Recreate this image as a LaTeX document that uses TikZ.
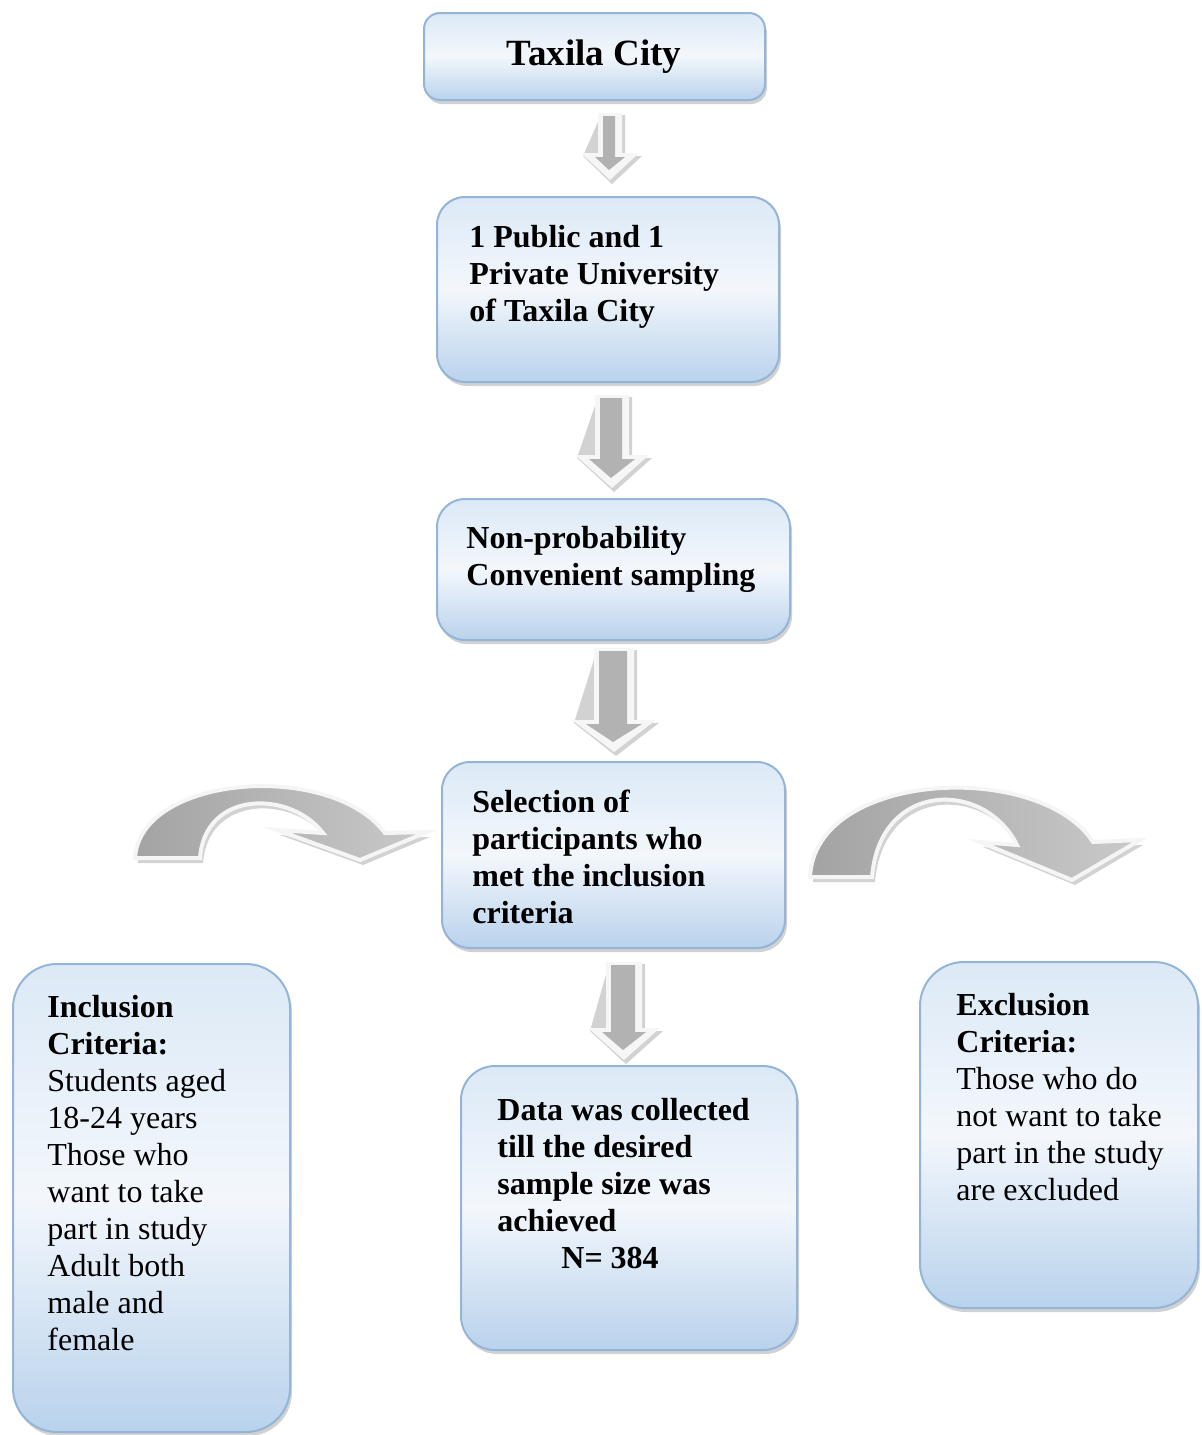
\documentclass[tikz,border=0pt]{standalone}
\usepackage{fontspec}
\setmainfont{Liberation Serif}
\usetikzlibrary{shadows,calc}
\definecolor{boxtop}{HTML}{DCE9F6}
\definecolor{boxmid}{HTML}{F3F7FC}
\definecolor{boxbot}{HTML}{B9D2EC}
\definecolor{boxline}{HTML}{93B5D8}
\tikzset{
  box/.style={draw=boxline, line width=1pt, top color=boxtop, bottom color=boxbot, middle color=boxmid,
    rounded corners=14pt, inner sep=0pt,
    drop shadow={shadow xshift=1pt, shadow yshift=-2pt, fill=black!40, opacity=0.45}},
  txt/.style={anchor=north west, inner sep=0pt, align=left,
    font=\fontsize{16}{18.5}\selectfont},
  bigtxt/.style={anchor=base, inner sep=0pt, font=\bfseries\fontsize{18.5}{21}\selectfont},
  curvarrow/.style={draw=gray!8, line width=2pt, left color=gray!72, right color=gray!42},
  arrowshadow/.style={fill=gray!35},
}
% cx, ytop, ytip, shaft half width, head half width, head length (pixel units)
\newcommand\blockdown[6]{%
  \fill[arrowshadow] ({#1-#4+3},{#2+2}) -- ({#1+#4+3},{#2+2}) -- ({#1+#4+3},{#3-#6+3})
     -- ({#1+#5+3},{#3-#6+3}) -- ({#1+2},{#3+4}) -- ({#1-#5+2},{#3-#6+3}) -- cycle;
  \fill[gray!7] ({#1-#4},{#2}) -- ({#1+#4},{#2}) -- ({#1+#4},{#3-#6}) -- ({#1+#5},{#3-#6})
     -- ({#1},{#3}) -- ({#1-#5},{#3-#6}) -- ({#1-#4},{#3-#6}) -- cycle;
  \fill[gray!60] ({#1-#4+5},{#2+3}) -- ({#1+#4-7},{#2+3}) -- ({#1+#4-7},{#3-#6+4})
     -- ({#1+#5-14},{#3-#6+4}) -- ({#1-1},{#3-10}) -- ({#1-#5+14},{#3-#6+4})
     -- ({#1-#4+5},{#3-#6+4}) -- cycle;
}
\begin{document}
\begin{tikzpicture}[x=0.5pt,y=-0.5pt]
\useasboundingbox (0,0) rectangle (1201,1435);

% boxes
\node[box, rounded corners=8pt, minimum width=170.5pt, minimum height=43.5pt] (city) at (594.5,56.5) {};
\node[box, minimum width=171pt, minimum height=92.5pt] (univ) at (608,289.5) {};
\node[box, minimum width=176.5pt, minimum height=70.5pt] (samp) at (613.5,569.5) {};
\node[box, minimum width=171.5pt, minimum height=93pt] (sel) at (613.5,855) {};
\node[box, rounded corners=17pt, minimum width=168pt, minimum height=142pt] (data) at (629,1208) {};
\node[box, rounded corners=22pt, minimum width=138.5pt, minimum height=234pt] (inc) at (151.5,1198) {};
\node[box, rounded corners=22pt, minimum width=139pt, minimum height=173pt] (exc) at (1059,1135) {};

% texts
\node[bigtxt] (tcity) at (594,65) {Taxila City};
\node[txt, font=\bfseries\fontsize{16}{18.5}\selectfont] (tuniv) at (469,225)
  {1 Public and 1\\Private University\\of Taxila City};
\node[txt, font=\bfseries\fontsize{16}{18.5}\selectfont] (tsamp) at (466,526)
  {Non-probability\\Convenient sampling};
\node[txt, font=\bfseries\fontsize{16}{18.5}\selectfont] (tsel) at (472,790)
  {Selection of\\participants who\\met the inclusion\\criteria};
\node[txt, font=\bfseries\fontsize{16}{18.5}\selectfont] (tdata) at (497,1098)
  {Data was collected\\till the desired\\sample size was\\achieved\\\hspace*{32pt}N= 384};
\node[txt] (tinc) at (47,995)
  {\textbf{Inclusion}\\\textbf{Criteria:}\\Students aged\\18-24 years\\Those who\\want to take\\part in study\\Adult both\\male and\\female};
\node[txt] (texc) at (956,993)
  {\textbf{Exclusion}\\\textbf{Criteria:}\\Those who do\\not want to take\\part in the study\\are excluded};

% straight block arrows
\blockdown{610}{113}{180}{12}{29}{27}
\blockdown{612}{395}{488}{17}{37}{33}
\blockdown{614}{648}{752}{20}{42}{32}
\blockdown{624}{962}{1060}{18}{36}{32}

% curved arrows
\fill[arrowshadow, shift={(3,5)}] (135,858) .. controls (140,775) and (330,760) .. (385,833)
  -- (427,832) -- (360,860) -- (277,830) -- (323,833)
  .. controls (290,790) and (205,790) .. (200,858) -- cycle;
\path[curvarrow] (135,858) .. controls (140,775) and (330,760) .. (385,833)
  -- (427,832) -- (360,860) -- (277,830) -- (323,833)
  .. controls (290,790) and (205,790) .. (200,858) -- cycle;

\fill[arrowshadow, shift={(3,5)}] (810,877) .. controls (815,770) and (1040,760) .. (1093,842)
  -- (1140,840) -- (1072,880) -- (980,842) -- (1017,845)
  .. controls (985,780) and (880,780) .. (872,877) -- cycle;
\path[curvarrow] (810,877) .. controls (815,770) and (1040,760) .. (1093,842)
  -- (1140,840) -- (1072,880) -- (980,842) -- (1017,845)
  .. controls (985,780) and (880,780) .. (872,877) -- cycle;
\end{tikzpicture}
\end{document}
